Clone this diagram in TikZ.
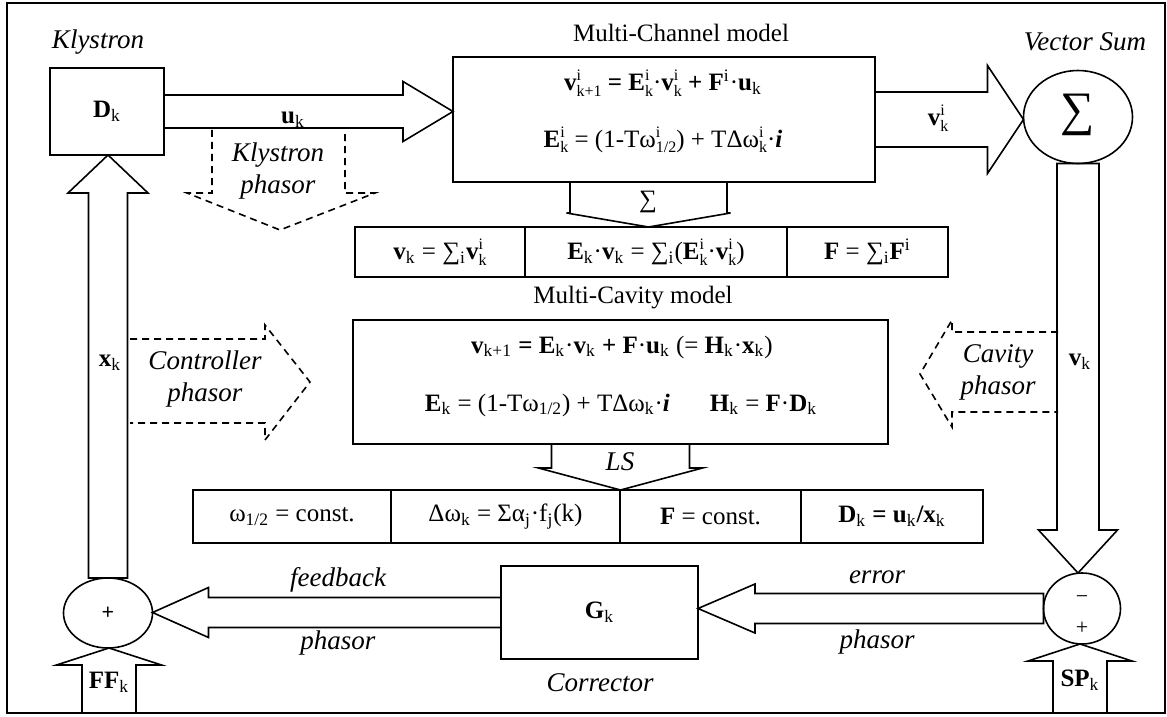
\documentclass[tikz,border=0pt]{standalone}
\usepackage{fontspec}
\setmainfont{Liberation Serif}
\usetikzlibrary{shapes.geometric,calc}

% upper and lower index, stacked
\newcommand{\ud}[2]{\makebox[0pt][l]{\raisebox{0.4em}{\fontsize{8}{8}\selectfont #1}}\raisebox{-0.22em}{\fontsize{8}{8}\selectfont #2}}

% hollow block arrows: from, to, shaft half width, head half width, head length
\newcommand{\hfat}[5]{%
  \draw[fat] let \p1=(#1), \p2=(#2), \n1={sign(\x2-\x1)} in
    (\x1,{\y1+#3}) -- ({\x2-(\n1)*#5},{\y1+#3}) -- ({\x2-(\n1)*#5},{\y1+#4})
    -- (\x2,\y1) -- ({\x2-(\n1)*#5},{\y1-#4}) -- ({\x2-(\n1)*#5},{\y1-#3})
    -- (\x1,{\y1-#3}) -- cycle;}
\newcommand{\vfat}[5]{%
  \draw[fat] let \p1=(#1), \p2=(#2), \n1={sign(\y2-\y1)} in
    ({\x1+#3},\y1) -- ({\x1+#3},{\y2-(\n1)*#5}) -- ({\x1+#4},{\y2-(\n1)*#5})
    -- (\x1,\y2) -- ({\x1-#4},{\y2-(\n1)*#5}) -- ({\x1-#3},{\y2-(\n1)*#5})
    -- ({\x1-#3},\y1) -- cycle;}

\begin{document}
\begin{tikzpicture}[x=0.5pt,y=-0.5pt,
  every node/.style={font=\fontsize{12.5}{16}\selectfont},
  box/.style={draw, line width=0.8pt, inner sep=0pt, outer sep=0pt, align=center},
  ring/.style={draw, ellipse, line width=0.8pt, inner sep=0pt, outer sep=0pt},
  fat/.style={draw, line width=0.8pt, line join=miter},
  phasor/.style={draw, line width=0.8pt, dash pattern=on 3.5pt off 2.5pt},
  lbl/.style={font=\fontsize{13.5}{16}\selectfont\itshape, align=center}]
  \useasboundingbox (0,0) rectangle (1167,717);
  \draw[line width=0.9pt] (7,3) rectangle (1165,713);

  % klystron
  \node[lbl] (klylbl) at (98,42) {Klystron};
  \node[box, minimum width=57pt, minimum height=43.5pt] (dk) at (107,111.5) {\textbf{D}\textsubscript{k}};

  % multi-channel model
  \node (mclbl) at (681,33) {Multi-Channel model};
  \node[box, minimum width=211pt, minimum height=62.5pt] (mc) at (664,119.5) {};
  \node (mceq1) at (663,83) {\textbf{v}\ud{i}{k+1} \textbf{= E}\ud{i}{k}·\textbf{v}\ud{i}{k} \textbf{+ F}\textsuperscript{i}·\textbf{u}\textsubscript{k}};
  \node (mceq2) at (663,140) {\textbf{E}\ud{i}{k} = (1-Tω\ud{i}{1/2}) + TΔω\ud{i}{k}·\textbf{\textit{i}}};

  % vector sum
  \node[lbl] (vslbl) at (1085,42) {Vector Sum};
  \node[ring, minimum width=54.5pt, minimum height=46.5pt] (sum) at (1078,117) {};
  \node[font=\fontsize{24}{24}\selectfont] (sumsign) at (1078,115) {∑};

  % sums over the channels
  \node[box, minimum width=85pt, minimum height=25pt] (t1a) at (440,252) {\textbf{v}\textsubscript{k} = ∑\textsubscript{i}\textbf{v}\ud{i}{k}};
  \node[box, minimum width=131pt, minimum height=25pt] (t1b) at (656,252) {\textbf{E}\textsubscript{k}·\textbf{v}\textsubscript{k} = ∑\textsubscript{i}(\textbf{E}\ud{i}{k}·\textbf{v}\ud{i}{k})};
  \node[box, minimum width=80.5pt, minimum height=25pt] (t1c) at (867.5,252) {\textbf{F} = ∑\textsubscript{i}\textbf{F}\textsuperscript{i}};

  % multi-cavity model
  \node (cvlbl) at (633,298) {Multi-Cavity model};
  \node[box, minimum width=267.5pt, minimum height=62pt] (cav) at (620.5,382) {};
  \node (cveq1) at (622,347) {\textbf{v}\textsubscript{k+1} \textbf{= E}\textsubscript{k}·\textbf{v}\textsubscript{k} \textbf{+ F}·\textbf{u}\textsubscript{k} (= \textbf{H}\textsubscript{k}·\textbf{x}\textsubscript{k})};
  \node (cveq2) at (621,405) {\textbf{E}\textsubscript{k} = (1-Tω\textsubscript{1/2}) + TΔω\textsubscript{k}·\textbf{\textit{i}}\hspace{1.6em}\textbf{H}\textsubscript{k} = \textbf{F}·\textbf{D}\textsubscript{k}};

  % least squares results
  \node[box, minimum width=99pt, minimum height=26.5pt] (t2a) at (292,516.5) {ω\textsubscript{1/2} = const.};
  \node[box, minimum width=114.5pt, minimum height=26.5pt] (t2b) at (505.5,516.5) {Δω\textsubscript{k} = Σα\textsubscript{j}·f\textsubscript{j}(k)};
  \node[box, minimum width=90.5pt, minimum height=26.5pt] (t2c) at (710.5,516.5) {\textbf{F} = const.};
  \node[box, minimum width=91pt, minimum height=26.5pt] (t2d) at (892,516.5) {\textbf{D}\textsubscript{k} \textbf{= u}\textsubscript{k}\textbf{/x}\textsubscript{k}};

  % corrector and summing points
  \node[box, minimum width=98.5pt, minimum height=46.5pt] (g) at (599.5,612.5) {\textbf{G}\textsubscript{k}};
  \node[lbl] (corr) at (600,683) {Corrector};
  \node[ring, minimum width=44.5pt, minimum height=35pt] (plus) at (108,613) {};
  \node[font=\fontsize{11}{11}\selectfont\bfseries] (plussign) at (108,613) {+};
  \node[ring, minimum width=38.5pt, minimum height=35.5pt] (err) at (1082,608.5) {};
  \node[font=\fontsize{11}{11}\selectfont] (errminus) at (1082,600) {−};
  \node[font=\fontsize{11}{11}\selectfont] (errplus) at (1082,628) {+};
  \coordinate (ffbase) at (109,713);
  \coordinate (spbase) at (1080,713);
  \coordinate (sigtop) at (648.5,182);

  % signal paths
  \hfat{dk.east}{mc.west |- dk.east}{8.25pt}{15pt}{25pt}
  \hfat{mc.east}{sum.west |- mc.east}{13.75pt}{27pt}{18pt}
  \vfat{sum.south}{err.north -| sum.south}{10.5pt}{19.75pt}{21.5pt}
  \vfat{spbase}{err.south}{13.5pt}{26pt}{8.5pt}
  \hfat{err.west}{g.east |- err.west}{7.5pt}{12.25pt}{28.5pt}
  \hfat{g.west}{plus.east |- g.west}{7.5pt}{12.5pt}{28pt}
  \vfat{ffbase}{plus.south}{13.5pt}{26.25pt}{8.5pt}
  \vfat{plus.north}{dk.south}{9.75pt}{20pt}{19pt}
  \vfat{sigtop}{sigtop |- t1b.north}{39.25pt}{41pt}{7pt}
  \vfat{cav.south}{cav.south |- t2b.north}{34.5pt}{41pt}{11pt}

  \node (uk) at (293,120) {\textbf{u}\textsubscript{k}};
  \node (vik) at (938,118) {\textbf{v}\ud{i}{k}};
  \node (vk) at (1080,362) {\textbf{v}\textsubscript{k}};
  \node (xk) at (110,363) {\textbf{x}\textsubscript{k}};
  \node (ffk) at (109,682) {\textbf{FF}\textsubscript{k}};
  \node (spk) at (1080,680) {\textbf{SP}\textsubscript{k}};
  \node (sig) at (648,202) {∑};
  \node[lbl] (ls) at (620,462) {LS};
  \node[lbl] (errtop) at (877,577) {error};
  \node[lbl] (errbot) at (877,642) {phasor};
  \node[lbl] (fbtop) at (338,580) {feedback};
  \node[lbl] (fbbot) at (338,643) {phasor};

  % phasor taps (dashed)
  \draw[phasor] (212,130) -- (212,193) -- (187,193) -- (280,230) -- (375,193) -- (345,193) -- (345,130);
  \node[lbl] (klyph) at (278,171) {Klystron\\phasor};
  \draw[phasor] (130,339) -- (265,339) -- (265,325) -- (310,382) -- (265,440) -- (265,423) -- (130,423);
  \node[lbl] (ctlph) at (205,379) {Controller\\phasor};
  \draw[phasor] (1058,332) -- (952,332) -- (952,320) -- (920,374) -- (952,427) -- (952,412) -- (1058,412);
  \node[lbl] (cavph) at (998,372) {Cavity\\phasor};
\end{tikzpicture}
\end{document}
